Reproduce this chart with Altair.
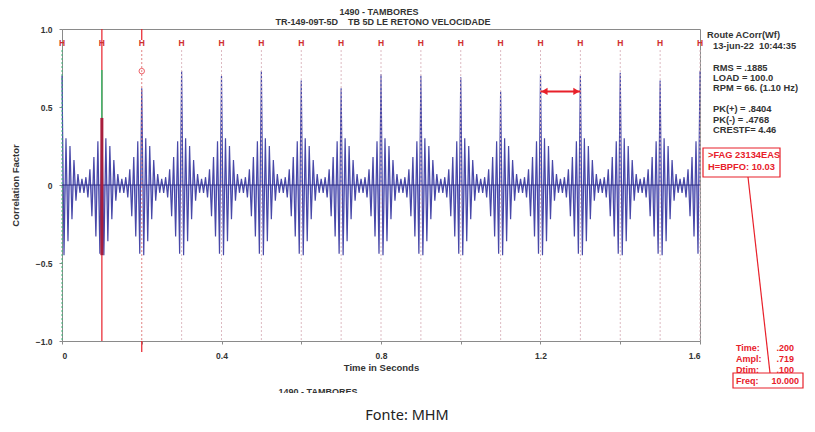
import altair as alt
import pandas as pd

# ---------------- data ----------------
PEAK_TIMES = [0.0, 0.1, 0.2, 0.3, 0.4, 0.5, 0.6, 0.7, 0.8, 0.9, 1.0, 1.1, 1.2, 1.3, 1.4, 1.5, 1.6]
PEAK_VALUES = [0.70, 0.43, 0.62, 0.73, 0.70, 0.73, 0.67, 0.62, 0.71, 0.70, 0.69, 0.60, 0.71, 0.70, 0.72, 0.67, 0.73]

# one period of the ringing burst around each impact (half-cycle samples)
BURST_STEP = 0.005
BURST_OFFSETS = [-10, -9, -8, -7, -6, -5, -4, -3, -2, -1, 0, 1, 2, 3, 4, 5, 6, 7, 8, 9]
BURST_SHAPE = [0.04, -0.05, 0.05, -0.08, 0.10, -0.20, 0.18, -0.33, 0.28, -0.44,
               None, -0.45, 0.30, -0.36, 0.25, -0.22, 0.16, -0.10, 0.07, -0.05]

Y_TICKS = [-1.0, -0.5, 0.0, 0.5, 1.0]

NB = "\u00a0"
TITLE = "1490 - TAMBORES"
SUBTITLE = "TR-149-09T-5D" + NB * 4 + "TB 5D LE RETONO VELOCIDADE"
INFO_LINES = ["Route ACorr(Wf)", "13-jun-22" + NB * 2 + "10:44:35", "RMS = .1885", "LOAD = 100.0",
              "RPM = 66. (1.10 Hz)", "PK(+) = .8404", "PK(-) = .4768", "CRESTF= 4.46"]
FAULT_LINES = [">FAG 23134EAS", "H=BPFO: 10.03"]
CURSOR_LABELS = ["Time:", "Ampl:", "Dtim:", "Freq:"]
CURSOR_VALUES = [".200", ".719", ".100", "10.000"]
CURSOR_TIME = 0.2
CURSOR_AMPL = 0.73
ACTIVE_TIME = 0.1
ARROW = [1.2, 1.3, 0.6]
SOURCE = "Fonte: MHM"

# ---------------- build tables ----------------
rows = []
for tc, pk in zip(PEAK_TIMES, PEAK_VALUES):
    for k, v in zip(BURST_OFFSETS, BURST_SHAPE):
        t = round(tc + k * BURST_STEP, 4)
        if t < 0 or t > 1.6:
            continue
        rows.append({"t": t, "v": pk if k == 0 else v})
signal = pd.DataFrame(rows).sort_values("t")

hl = []
for t in PEAK_TIMES:
    if t == ACTIVE_TIME:
        continue
    c = "#3cb878" if t == 0.0 else ("#e08080" if t == CURSOR_TIME else "#dcb8c0")
    hl.append({"t": t, "y1": 0.865, "y2": -1.0, "c": c})
hlines = pd.DataFrame(hl)
hmarks = pd.DataFrame({"t": PEAK_TIMES, "y": [0.91] * len(PEAK_TIMES)})

X0, Y0 = 62, 29          # page position of the plot origin
W, H = 638, 312

xs = alt.Scale(domain=[0, 1.6], nice=False, zero=False)
ys = alt.Scale(domain=[-1, 1], nice=False)

AX = dict(labelFont="Liberation Sans", labelFontWeight="bold", labelFontSize=8.5, labelColor="#333333",
          titleFont="Liberation Sans", titleFontWeight="bold", titleFontSize=9.5, titleColor="#333333",
          domainColor="#8a8a8a", tickColor="#8a8a8a", tickSize=3, grid=False)

base_x = alt.X("t:Q", scale=xs, axis=alt.Axis(
    values=PEAK_TIMES, format=".1~f",
    labelExpr="round(datum.value*10) % 4 == 0 ? datum.label : ''",
    title="Time in Seconds", titlePadding=3, labelPadding=7, **AX))
base_y = alt.Y("v:Q", scale=ys, axis=alt.Axis(
    values=Y_TICKS, labelExpr="datum.value == 0 ? '0' : format(datum.value, '.1f')",
    title="Correlation Factor", titleX=-42, labelPadding=7, **AX))

fill = alt.Chart(signal).mark_area(color="#a6a8e2", opacity=1, interpolate="linear").encode(
    x=alt.X("t:Q", scale=xs), y=alt.Y("v:Q", scale=ys), y2=alt.datum(0))
line = alt.Chart(signal).mark_line(color="#4848a8", strokeWidth=1.2, interpolate="linear").encode(x=base_x, y=base_y)

zero = alt.Chart(alt.Data(values=[{"y": 0}])).mark_rule(color="#2c2c80", strokeWidth=1).encode(y=alt.Y("y:Q", scale=ys))

dashed = alt.Chart(hlines).mark_rule(strokeDash=[2, 2], strokeWidth=1).encode(
    x=alt.X("t:Q", scale=xs), y=alt.Y("y1:Q", scale=ys), y2="y2:Q",
    color=alt.Color("c:N", scale=None))

act = pd.DataFrame({"t": [ACTIVE_TIME], "y1": [1.0], "y2": [-1.0],
                    "g1": [0.737], "g2": [PEAK_VALUES[1]], "r1": [PEAK_VALUES[1]], "r2": [-0.45]})
red_full = alt.Chart(act).mark_rule(color="#e8202a", strokeWidth=1.2).encode(
    x=alt.X("t:Q", scale=xs), y=alt.Y("y1:Q", scale=ys), y2="y2:Q")
green_seg = alt.Chart(act).mark_rule(color="#30c070", strokeWidth=1.5).encode(
    x=alt.X("t:Q", scale=xs), y=alt.Y("g1:Q", scale=ys), y2="g2:Q")
dark_seg = alt.Chart(act).mark_rule(color="#a81e3c", strokeWidth=3).encode(
    x=alt.X("t:Q", scale=xs), y=alt.Y("r1:Q", scale=ys), y2="r2:Q")

cur = pd.DataFrame({"t": [CURSOR_TIME, CURSOR_TIME], "y1": [1.0, -1.0], "y2": [0.93, -1.07]})
cur_segs = alt.Chart(cur).mark_rule(color="#e8202a", strokeWidth=1.2).encode(
    x=alt.X("t:Q", scale=xs), y=alt.Y("y1:Q", scale=ys), y2="y2:Q")
circle = alt.Chart(pd.DataFrame({"t": [CURSOR_TIME], "v": [CURSOR_AMPL]})).mark_point(
    shape="circle", size=30, color="#e8202a", strokeWidth=1, filled=False).encode(
    x=alt.X("t:Q", scale=xs), y=alt.Y("v:Q", scale=ys))

hlabels = alt.Chart(hmarks).mark_text(text="H", color="#d03030", fontSize=8.5, fontWeight="bold",
                                      font="Liberation Sans", baseline="middle").encode(
    x=alt.X("t:Q", scale=xs), y=alt.Y("y:Q", scale=ys))

arr = pd.DataFrame({"a": [ARROW[0]], "b": [ARROW[1]], "y": [ARROW[2]]})
arrow_line = alt.Chart(arr).mark_rule(color="#e8202a", strokeWidth=2).encode(
    x=alt.X("a:Q", scale=xs), x2="b:Q", y=alt.Y("y:Q", scale=ys))
arrow_l = alt.Chart(arr).mark_point(shape="triangle-left", size=50, filled=True, color="#e8202a",
                                    opacity=1, xOffset=4).encode(x=alt.X("a:Q", scale=xs), y=alt.Y("y:Q", scale=ys))
arrow_r = alt.Chart(arr).mark_point(shape="triangle-right", size=50, filled=True, color="#e8202a",
                                    opacity=1, xOffset=-4).encode(x=alt.X("b:Q", scale=xs), y=alt.Y("y:Q", scale=ys))


def label(txt, px, py, color="#333333", size=9.3, weight="bold", align="left", font="Liberation Sans"):
    return alt.Chart(alt.Data(values=[{}])).mark_text(
        text=txt, align=align, baseline="middle", fontSize=size, fontWeight=weight,
        color=color, font=font).encode(x=alt.value(px - X0), y=alt.value(py - Y0))


def box(x1, y1, x2, y2, fill=None, stroke="#e8202a"):
    kw = {"fill": fill} if fill else {"fillOpacity": 0}
    if stroke:
        kw["stroke"] = stroke
        kw["strokeWidth"] = 1.2
    return alt.Chart(alt.Data(values=[{}])).mark_rect(**kw).encode(
        x=alt.value(x1 - X0), x2=alt.value(x2 - X0), y=alt.value(y1 - Y0), y2=alt.value(y2 - Y0))


texts = [label(TITLE, 379, 12, align="center", size=9), label(SUBTITLE, 383, 21.5, align="center", size=9)]
info_pos = [(707, 35), (713, 46), (713, 68), (713, 78), (713, 88), (713, 109), (713, 120), (713, 130)]
for s, (px, py) in zip(INFO_LINES, info_pos):
    texts.append(label(s, px, py))
texts.append(box(703, 148, 780, 177))
texts.append(label(FAULT_LINES[0], 708, 155, color="#e8202a"))
texts.append(label(FAULT_LINES[1], 708, 167, color="#e8202a"))

connector = alt.Chart(alt.Data(values=[{}])).mark_rule(color="#e8202a", strokeWidth=1.2).encode(
    x=alt.value(748 - X0), y=alt.value(177 - Y0), x2=alt.value(770 - X0), y2=alt.value(373 - Y0))
texts.append(connector)
for i, (lab, val) in enumerate(zip(CURSOR_LABELS, CURSOR_VALUES)):
    py = 348 + i * 11
    texts.append(label(lab, 736, py, color="#e8202a", size=9))
    texts.append(label(val, 799 if i == 3 else 794, py, color="#e8202a", align="right", size=9))
texts.append(box(733, 373, 803, 388))

texts.append(label(TITLE, 318, 392, align="center", size=9))
texts.append(box(260, 393, 380, 402, fill="white", stroke=None))
texts.append(label(SOURCE, 407, 416, color="#222222", size=14.5, weight="normal", align="center", font="Noto Sans"))

chart = alt.layer(fill, line, zero, dashed, red_full, green_seg, dark_seg, cur_segs, circle, hlabels,
                  arrow_line, arrow_l, arrow_r, *texts).properties(
    width=W, height=H, background="white",
    autosize=alt.AutoSizeParams(type="none"),
    padding={"left": X0 - 8, "top": Y0 - 8, "right": 815 - 16 - (X0 - 8) - W, "bottom": 432 - 16 - (Y0 - 8) - H},
).configure_view(stroke="#8a8a8a", strokeWidth=1)

chart.save("out.html", embed_options={"renderer": "svg", "actions": False})
